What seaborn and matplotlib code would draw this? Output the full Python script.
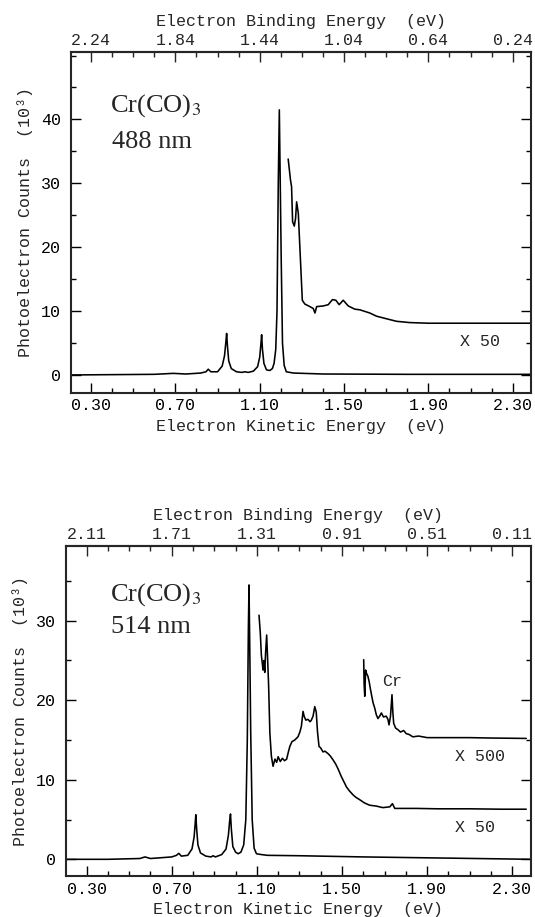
import matplotlib
matplotlib.use("Agg")
import matplotlib.pyplot as plt
from matplotlib.ticker import MultipleLocator, FormatStrFormatter
import seaborn as sns

# 488 nm spectrum, main trace (KE in eV, counts in 10^3)
ke_488 = [0.20, 0.40, 0.60, 0.69, 0.75, 0.82, 0.845, 0.856, 0.868, 0.90, 0.922, 0.933,
          0.939, 0.943, 0.947, 0.953, 0.965, 0.99, 1.015, 1.030, 1.045, 1.07, 1.090,
          1.100, 1.106, 1.109, 1.113, 1.120, 1.132, 1.148, 1.160, 1.168, 1.176, 1.182,
          1.188, 1.193, 1.197, 1.202, 1.208, 1.216, 1.226, 1.26, 1.40, 1.80, 2.39]
cnt_488 = [0.0, 0.05, 0.1, 0.25, 0.15, 0.3, 0.5, 0.9, 0.5, 0.5, 1.4, 3.0,
           5.0, 6.5, 4.5, 2.2, 1.0, 0.5, 0.4, 0.5, 0.4, 0.6, 1.3,
           2.8, 5.0, 6.3, 4.0, 1.8, 0.8, 0.7, 1.0, 1.8, 4.0, 10.0,
           30.0, 41.5, 31.0, 18.0, 5.0, 1.5, 0.5, 0.3, 0.15, 0.1, 0.1]

# 488 nm, x50 trace
ke_488_x50 = [1.235, 1.246, 1.251, 1.256, 1.264, 1.270, 1.275, 1.283, 1.291, 1.302,
              1.314, 1.338, 1.354, 1.362, 1.370, 1.401, 1.425, 1.445, 1.461, 1.477,
              1.496, 1.520, 1.551, 1.575, 1.622, 1.654, 1.701, 1.749, 1.812, 1.90, 2.10, 2.385]
cnt_488_x50 = [33.8, 30.5, 29.5, 24.0, 23.3, 24.5, 27.1, 25.3, 19.6, 11.7,
               11.1, 10.7, 10.4, 9.7, 10.7, 10.8, 11.0, 11.8, 11.7, 11.0,
               11.7, 10.8, 10.3, 10.2, 9.7, 9.2, 8.8, 8.4, 8.2, 8.1, 8.1, 8.1]

# 514 nm spectrum, main trace
ke_514 = [0.20, 0.40, 0.55, 0.574, 0.60, 0.70, 0.722, 0.733, 0.745, 0.775, 0.795, 0.805,
          0.810, 0.813, 0.817, 0.823, 0.835, 0.86, 0.885, 0.894, 0.905, 0.935, 0.955,
          0.966, 0.972, 0.976, 0.980, 0.987, 1.000, 1.012, 1.025, 1.038, 1.048, 1.055,
          1.060, 1.063, 1.066, 1.071, 1.078, 1.087, 1.098, 1.12, 1.15, 1.30, 1.60, 2.00, 2.39]
cnt_514 = [0.0, 0.0, 0.1, 0.3, 0.1, 0.3, 0.5, 0.75, 0.4, 0.5, 1.3, 2.8,
           4.5, 5.6, 3.8, 1.8, 0.8, 0.4, 0.3, 0.45, 0.3, 0.6, 1.3,
           3.0, 4.8, 5.7, 3.8, 1.6, 0.9, 0.7, 0.9, 1.8, 5.0, 15.0,
           29.0, 34.5, 28.0, 16.0, 5.0, 1.4, 0.7, 0.6, 0.5, 0.45, 0.3, 0.15, 0.0]

# 514 nm, x50 trace
ke_514_x50 = [1.110, 1.116, 1.121, 1.126, 1.129, 1.133, 1.137, 1.141, 1.146, 1.150,
              1.155, 1.161, 1.168, 1.176, 1.185, 1.193, 1.200, 1.210, 1.220, 1.230,
              1.240, 1.248, 1.255, 1.265, 1.278, 1.293, 1.302, 1.309, 1.317, 1.322,
              1.330, 1.340, 1.350, 1.356, 1.364, 1.372, 1.379, 1.385, 1.392, 1.400,
              1.411, 1.420, 1.434, 1.445, 1.458, 1.470, 1.481, 1.497, 1.510, 1.521,
              1.535, 1.552, 1.565, 1.583, 1.605, 1.630, 1.660, 1.692, 1.725, 1.737,
              1.748, 1.80, 1.85, 1.95, 2.10, 2.25, 2.366]
cnt_514_x50 = [30.7, 28.5, 25.7, 24.5, 23.8, 25.0, 23.5, 26.0, 28.2, 25.5,
               22.0, 15.9, 13.0, 11.7, 12.6, 12.2, 12.9, 12.3, 12.7, 12.4,
               12.6, 13.5, 14.2, 14.8, 15.0, 15.4, 16.0, 16.7, 18.6, 18.0,
               17.5, 17.6, 17.3, 17.5, 18.0, 19.2, 18.5, 16.0, 14.2, 14.0,
               13.5, 13.6, 13.3, 13.0, 12.5, 12.0, 11.4, 10.4, 9.7, 9.1,
               8.6, 8.1, 7.8, 7.5, 7.1, 6.8, 6.7, 6.5, 6.6, 7.0,
               6.4, 6.4, 6.4, 6.35, 6.35, 6.3, 6.3]

# 514 nm, x500 trace
ke_514_x500 = [1.602, 1.604, 1.607, 1.611, 1.615, 1.622, 1.628, 1.633, 1.640, 1.646,
               1.654, 1.661, 1.669, 1.677, 1.685, 1.695, 1.708, 1.716, 1.721, 1.728,
               1.735, 1.739, 1.743, 1.752, 1.763, 1.775, 1.790, 1.802, 1.815, 1.833,
               1.86, 1.90, 2.006, 2.10, 2.20, 2.366]
cnt_514_x500 = [25.1, 22.0, 20.5, 23.8, 23.4, 23.0, 22.3, 21.5, 20.5, 19.7,
                19.0, 18.2, 17.7, 18.0, 18.4, 17.9, 18.0, 17.6, 16.9, 18.0,
                20.7, 18.5, 17.1, 16.5, 16.3, 16.0, 16.2, 15.8, 15.7, 15.4,
                15.5, 15.3, 15.3, 15.3, 15.25, 15.2]

ke_ticks = [0.30, 0.70, 1.10, 1.50, 1.90, 2.30]
count_ticks = [0, 10, 20, 30, 40]
be_ticks_488 = [2.24, 1.84, 1.44, 1.04, 0.64, 0.24]
be_ticks_514 = [2.11, 1.71, 1.31, 0.91, 0.51, 0.11]
photon_488 = 2.54
photon_514 = 2.41

sns.set_style("ticks")
plt.rcParams["font.family"] = ["Liberation Mono", "DejaVu Sans Mono"]
plt.rcParams["mathtext.fontset"] = "stix"
plt.rcParams["axes.linewidth"] = 1.5

MONO = 12


def draw_panel(ax, traces, hv, be_ticks, ylim, minor_off):
    for x, y in traces:
        sns.lineplot(x=x, y=y, ax=ax, color="black", lw=1.15,
                     estimator=None, sort=False)
    ax.set_xlim(0.203, 2.388)
    ax.set_ylim(*ylim)
    ax.set_xticks(ke_ticks)
    ax.xaxis.set_major_formatter(FormatStrFormatter("%.2f"))
    ax.xaxis.set_minor_locator(MultipleLocator(0.1))
    ax.set_yticks([t for t in count_ticks if t < ylim[1]])
    ax.yaxis.set_minor_locator(MultipleLocator(5))
    ax.tick_params(which="both", direction="in", right=True, top=False,
                   labelsize=MONO, width=1.0, colors="black")
    ax.tick_params(which="major", length=7)
    ax.tick_params(which="minor", length=3.5)
    ax.tick_params(axis="x", pad=4)
    ax.tick_params(axis="y", pad=7)
    ax.set_xlabel("Electron Kinetic Energy  (eV)", fontsize=MONO, labelpad=4)
    ax.set_ylabel("Photoelectron Counts  (10\u00b3)", fontsize=MONO, labelpad=6)

    sec = ax.secondary_xaxis("top", functions=(lambda k: hv - k, lambda b: hv - b))
    sec.set_xticks(be_ticks)
    sec.xaxis.set_major_formatter(FormatStrFormatter("%.2f"))
    sec.xaxis.set_minor_locator(MultipleLocator(0.1, offset=minor_off))
    sec.tick_params(which="both", direction="in", labelsize=MONO, width=1.0, pad=3)
    sec.tick_params(which="major", length=7)
    sec.tick_params(which="minor", length=3.5)
    sec.set_xlabel("Electron Binding Energy  (eV)", fontsize=MONO, labelpad=5)
    for s in ax.spines.values():
        s.set_linewidth(1.5)
    sec.spines["top"].set_linewidth(1.5)


fig = plt.figure(figsize=(5.35, 9.17), dpi=100)
ax1 = fig.add_axes([0.132, 0.5718, 0.861, 0.3718])
ax2 = fig.add_axes([0.1234, 0.0447, 0.869, 0.3599])

draw_panel(ax1, [(ke_488, cnt_488), (ke_488_x50, cnt_488_x50)],
           photon_488, be_ticks_488, (-2.77, 50.6), 0.04)
draw_panel(ax2, [(ke_514, cnt_514), (ke_514_x50, cnt_514_x50), (ke_514_x500, cnt_514_x500)],
           photon_514, be_ticks_514, (-2.1, 39.4), 0.01)

serif = ["Liberation Serif", "DejaVu Serif"]
ax1.text(0.085, 0.823, r"Cr(CO)$_3$", transform=ax1.transAxes, fontsize=19, family=serif)
ax1.text(0.089, 0.718, "488 nm", transform=ax1.transAxes, fontsize=19, family=serif)
ax1.text(0.845, 0.149, "X 50", transform=ax1.transAxes, fontsize=MONO, va="center")

ax2.text(0.095, 0.836, r"Cr(CO)$_3$", transform=ax2.transAxes, fontsize=19, family=serif)
ax2.text(0.097, 0.736, "514 nm", transform=ax2.transAxes, fontsize=19, family=serif)
ax2.text(0.68, 0.588, "Cr", transform=ax2.transAxes, fontsize=MONO, va="center")
ax2.text(0.837, 0.361, "X 500", transform=ax2.transAxes, fontsize=MONO, va="center")
ax2.text(0.837, 0.148, "X 50", transform=ax2.transAxes, fontsize=MONO, va="center")

fig.savefig("out.png", dpi=100)
